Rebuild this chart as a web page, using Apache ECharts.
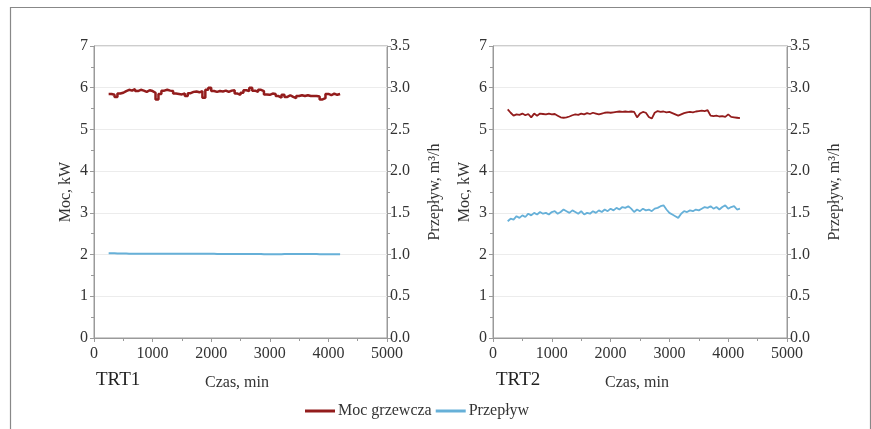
<!DOCTYPE html>
<html>
<head>
<meta charset="utf-8">
<script src="https://cdn.jsdelivr.net/npm/echarts@6/dist/echarts.min.js"></script>
<style>
  html, body { margin: 0; padding: 0; background: #fff; }
  #chart { width: 871px; height: 429px; }
</style>
</head>
<body>
<div id="chart"></div>
<script>
// czas pomiaru, min (wspolny dla obu testow)
const czas = [
  250, 300, 350, 400, 450, 500, 550, 600, 650, 700,
  750, 800, 850, 900, 950, 1000, 1050, 1100, 1150, 1200,
  1250, 1300, 1350, 1400, 1450, 1500, 1550, 1600, 1650, 1700,
  1750, 1800, 1850, 1900, 1950, 2000, 2050, 2100, 2150, 2200,
  2250, 2300, 2350, 2400, 2450, 2500, 2550, 2600, 2650, 2700,
  2750, 2800, 2850, 2900, 2950, 3000, 3050, 3100, 3150, 3200,
  3250, 3300, 3350, 3400, 3450, 3500, 3550, 3600, 3650, 3700,
  3750, 3800, 3850, 3900, 3950, 4000, 4050, 4100, 4150, 4200
]

// TRT1 - moc grzewcza, kW
const moc1 = [
  5.85, 5.83, 5.78, 5.86, 5.88, 5.92, 5.95, 5.93, 5.97, 5.92,
  5.95, 5.93, 5.90, 5.94, 5.92, 5.88, 5.72, 5.85, 5.93, 5.95,
  5.93, 5.92, 5.86, 5.85, 5.84, 5.86, 5.80, 5.87, 5.90, 5.91,
  5.89, 5.92, 5.76, 5.95, 6.00, 5.92, 5.90, 5.92, 5.91, 5.93,
  5.90, 5.93, 5.94, 5.86, 5.83, 5.88, 5.94, 5.92, 6.00, 5.93,
  5.90, 5.95, 5.92, 5.84, 5.83, 5.86, 5.85, 5.80, 5.76, 5.83,
  5.78, 5.82, 5.78, 5.75, 5.80, 5.82, 5.80, 5.82, 5.80, 5.80,
  5.80, 5.79, 5.72, 5.75, 5.85, 5.82, 5.86, 5.83, 5.85, 5.84
]
// TRT1 - przeplyw, m3/h
const przeplyw1 = [
  1.015, 1.015, 1.015, 1.012, 1.012, 1.012, 1.012, 1.010, 1.010, 1.010,
  1.010, 1.010, 1.010, 1.010, 1.010, 1.010, 1.010, 1.010, 1.010, 1.010,
  1.010, 1.010, 1.010, 1.010, 1.010, 1.010, 1.010, 1.010, 1.010, 1.010,
  1.010, 1.010, 1.010, 1.010, 1.010, 1.010, 1.010, 1.008, 1.008, 1.008,
  1.008, 1.008, 1.008, 1.008, 1.008, 1.008, 1.008, 1.008, 1.008, 1.008,
  1.008, 1.008, 1.008, 1.005, 1.005, 1.005, 1.005, 1.005, 1.005, 1.005,
  1.008, 1.008, 1.008, 1.008, 1.008, 1.008, 1.008, 1.008, 1.008, 1.008,
  1.008, 1.008, 1.005, 1.005, 1.005, 1.005, 1.005, 1.005, 1.005, 1.005
]

// TRT2 - moc grzewcza, kW
const moc2 = [
  5.48, 5.40, 5.33, 5.36, 5.35, 5.38, 5.34, 5.37, 5.29, 5.38,
  5.33, 5.38, 5.37, 5.36, 5.38, 5.36, 5.37, 5.33, 5.29, 5.28,
  5.29, 5.31, 5.34, 5.36, 5.35, 5.38, 5.36, 5.39, 5.37, 5.40,
  5.38, 5.36, 5.38, 5.40, 5.41, 5.40, 5.41, 5.42, 5.43, 5.42,
  5.43, 5.42, 5.43, 5.42, 5.29, 5.38, 5.42, 5.40, 5.30, 5.26,
  5.40, 5.44, 5.42, 5.43, 5.41, 5.42, 5.39, 5.36, 5.33, 5.36,
  5.39, 5.41, 5.42, 5.41, 5.43, 5.44, 5.45, 5.44, 5.46, 5.33,
  5.32, 5.33, 5.31, 5.32, 5.30, 5.36, 5.30, 5.29, 5.28, 5.27
]
// TRT2 - przeplyw, m3/h
const przeplyw2 = [
  1.40, 1.43, 1.42, 1.46, 1.44, 1.47, 1.45, 1.49, 1.47, 1.50,
  1.48, 1.51, 1.49, 1.50, 1.48, 1.51, 1.52, 1.49, 1.51, 1.54,
  1.52, 1.50, 1.53, 1.51, 1.49, 1.52, 1.48, 1.50, 1.49, 1.52,
  1.50, 1.53, 1.51, 1.54, 1.52, 1.55, 1.53, 1.56, 1.54, 1.57,
  1.56, 1.58, 1.55, 1.51, 1.54, 1.52, 1.55, 1.53, 1.54, 1.52,
  1.55, 1.56, 1.58, 1.59, 1.54, 1.50, 1.48, 1.46, 1.44, 1.49,
  1.52, 1.51, 1.53, 1.52, 1.54, 1.53, 1.55, 1.57, 1.56, 1.58,
  1.55, 1.57, 1.54, 1.57, 1.59, 1.55, 1.57, 1.58, 1.54, 1.55
]

const mocTicks = { min: 0, max: 7, interval: 1 }
const przeplywTicks = { min: 0, max: 3.5, interval: 0.5 }
const czasTicks = { min: 0, max: 5000, interval: 1000 }

const kolorMoc = '#931c1c'
const kolorPrzeplyw = '#66b0d8'
const font = 'Liberation Serif'
const axisGray = '#9a9a9a'

const pary = (ys) => czas.map((t, i) => [t, ys[i]])

const xAxisCfg = (gridIndex) => ({
  type: 'value', gridIndex, ...czasTicks,
  axisLine: { lineStyle: { color: axisGray } },
  axisTick: { show: true, length: 4, lineStyle: { color: axisGray } },
  minorTick: { show: true, splitNumber: 2, length: 3, lineStyle: { color: axisGray } },
  splitLine: { show: false },
  axisLabel: { color: '#333', fontFamily: font, fontSize: 16, margin: 8, formatter: (v) => String(v) }
})

const yLeftCfg = (gridIndex) => ({
  type: 'value', gridIndex, ...mocTicks, position: 'left',
  name: 'Moc, kW', nameLocation: 'middle', nameGap: 20, nameRotate: 90,
  nameTextStyle: { color: '#333', fontFamily: font, fontSize: 16 },
  axisLine: { show: true, lineStyle: { color: axisGray } },
  axisTick: { show: true, length: 4, lineStyle: { color: axisGray } },
  minorTick: { show: true, splitNumber: 2, length: 3, lineStyle: { color: axisGray } },
  splitLine: { show: true, lineStyle: { color: '#ececec' } },
  axisLabel: { color: '#333', fontFamily: font, fontSize: 16, margin: 6 }
})

const yRightCfg = (gridIndex) => ({
  type: 'value', gridIndex, ...przeplywTicks, position: 'right',
  name: 'Przepływ, m³/h', nameLocation: 'middle', nameGap: 40, nameRotate: 90,
  nameTextStyle: { color: '#333', fontFamily: font, fontSize: 16 },
  axisLine: { show: true, lineStyle: { color: axisGray } },
  axisTick: { show: true, length: 4, lineStyle: { color: axisGray } },
  minorTick: { show: true, splitNumber: 2, length: 3, lineStyle: { color: axisGray } },
  splitLine: { show: false },
  axisLabel: { color: '#333', fontFamily: font, fontSize: 16, margin: 3, formatter: (v) => v.toFixed(1) }
})

const chart = echarts.init(document.getElementById('chart'))
chart.setOption({
  animation: false,
  backgroundColor: '#fff',
  textStyle: { fontFamily: font },
  grid: [
    { left: 94, top: 46, width: 293, height: 292, show: true, borderColor: axisGray, borderWidth: 1 },
    { left: 493, top: 46, width: 294, height: 292, show: true, borderColor: axisGray, borderWidth: 1 }
  ],
  xAxis: [xAxisCfg(0), xAxisCfg(1)],
  yAxis: [yLeftCfg(0), yRightCfg(0), yLeftCfg(1), yRightCfg(1)],
  legend: {
    left: 300, top: 398, itemGap: 4, itemWidth: 30, itemHeight: 3,
    textStyle: { color: '#333', fontFamily: font, fontSize: 16, padding: [0, 0, 0, -2] },
    data: [
      { name: 'Moc grzewcza', icon: 'rect' },
      { name: 'Przepływ', icon: 'rect' }
    ]
  },
  graphic: [
    { type: 'rect', left: 8, top: 5, shape: { width: 860, height: 500 },
      style: { fill: 'none', stroke: '#888', lineWidth: 1.2 } },
    { type: 'text', left: 96, top: 371, style: { text: 'TRT1', fill: '#222', font: '19px "Liberation Serif"' } },
    { type: 'text', left: 496, top: 371, style: { text: 'TRT2', fill: '#222', font: '19px "Liberation Serif"' } },
    { type: 'text', left: 205, top: 375, style: { text: 'Czas, min', fill: '#333', font: '16px "Liberation Serif"' } },
    { type: 'text', left: 605, top: 375, style: { text: 'Czas, min', fill: '#333', font: '16px "Liberation Serif"' } }
  ],
  series: [
    { name: 'Moc grzewcza', type: 'line', xAxisIndex: 0, yAxisIndex: 0, step: 'end',
      data: pary(moc1), symbol: 'none', lineStyle: { color: kolorMoc, width: 2.5 }, itemStyle: { color: kolorMoc } },
    { name: 'Przepływ', type: 'line', xAxisIndex: 0, yAxisIndex: 1,
      data: pary(przeplyw1), symbol: 'none', lineStyle: { color: kolorPrzeplyw, width: 2 }, itemStyle: { color: kolorPrzeplyw } },
    { name: 'Moc grzewcza', type: 'line', xAxisIndex: 1, yAxisIndex: 2,
      data: pary(moc2), symbol: 'none', lineStyle: { color: kolorMoc, width: 1.8 }, itemStyle: { color: kolorMoc } },
    { name: 'Przepływ', type: 'line', xAxisIndex: 1, yAxisIndex: 3,
      data: pary(przeplyw2), symbol: 'none', lineStyle: { color: kolorPrzeplyw, width: 1.8 }, itemStyle: { color: kolorPrzeplyw } }
  ]
})
</script>
</body>
</html>
